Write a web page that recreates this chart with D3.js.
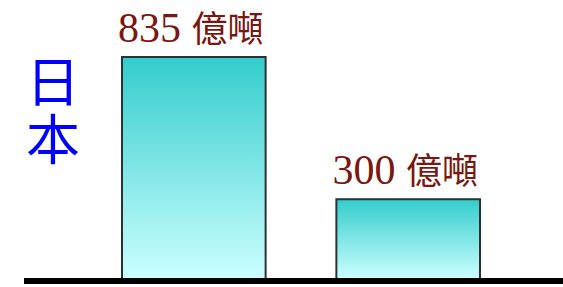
<!DOCTYPE html>
<html>
<head>
<meta charset="utf-8">
<script src="https://cdn.jsdelivr.net/npm/d3@7"></script>
<style>
  body { margin: 0; background: #fff; }
</style>
</head>
<body>
<div id="chart"></div>
<script>
const width = 563;
const height = 287;

// data
const categories = ["a", "b"];
const values = [835, 300];
const valueLabels = ["835", "300"];
const unitLabel = "億噸";
const sideLabel = "日本";

const svg = d3.select("#chart")
	.append("svg")
	.attr("width", width)
	.attr("height", height);

// gradient for bars
const grad = svg.append("defs").append("linearGradient")
	.attr("id", "barGrad")
	.attr("x1", 0).attr("y1", 0)
	.attr("x2", 0).attr("y2", 1);
grad.append("stop").attr("offset", "0%").attr("stop-color", "#33cccc");
grad.append("stop").attr("offset", "100%").attr("stop-color", "#ccffff");

const x = d3.scaleBand()
	.domain(categories)
	.range([122, 480])
	.paddingInner(0.33)
	.paddingOuter(0);

const y = d3.scaleLinear()
	.domain([0, 835])
	.range([279, 57]);

// bars
svg.selectAll(".bar")
	.data(values)
	.enter().append("rect")
	.attr("class", "bar")
	.attr("x", (d, i) => x(categories[i]))
	.attr("y", d => y(d))
	.attr("width", x.bandwidth())
	.attr("height", d => y(0) - y(d))
	.attr("fill", "url(#barGrad)")
	.attr("stroke", "#2a3333")
	.attr("stroke-width", 2);

// value labels
const labels = svg.selectAll(".val")
	.data(values)
	.enter().append("text")
	.attr("class", "val")
	.attr("x", (d, i) => x(categories[i]) + x.bandwidth() / 2 - 3)
	.attr("y", d => y(d) - 15)
	.attr("text-anchor", "middle")
	.attr("fill", "#7a1710");
labels.append("tspan")
	.attr("font-family", "'Liberation Serif', 'DejaVu Serif', serif")
	.attr("font-size", 42)
	.text((d, i) => valueLabels[i] + " ");
labels.append("tspan")
	.attr("font-family", "'Noto Sans CJK TC', sans-serif")
	.attr("font-size", 36)
	.text(unitLabel);

// baseline
svg.append("line")
	.attr("x1", 24).attr("x2", width)
	.attr("y1", y(0) + 2).attr("y2", y(0) + 2)
	.attr("stroke", "#000")
	.attr("stroke-width", 6);

// vertical side label
svg.append("text")
	.attr("x", 53)
	.attr("y", 54)
	.attr("writing-mode", "vertical-rl")
	.attr("letter-spacing", 4)
	.attr("font-family", "'Noto Sans CJK TC', sans-serif")
	.attr("font-size", 54)
	.attr("fill", "#0000ff")
	.text(sideLabel);
</script>
</body>
</html>
